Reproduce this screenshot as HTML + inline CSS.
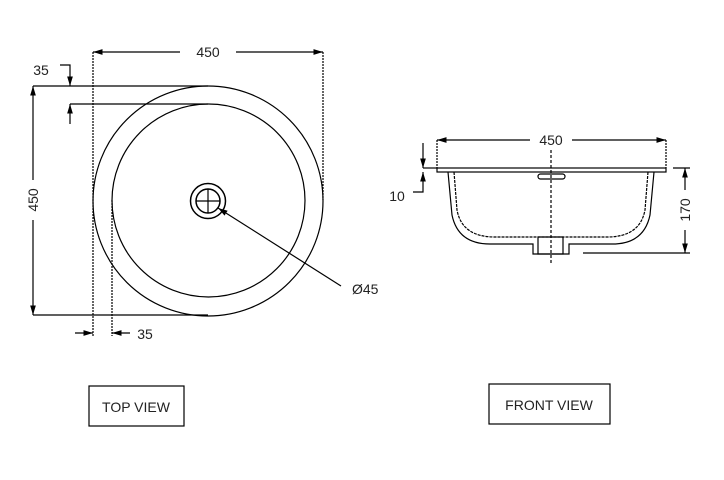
<!DOCTYPE html>
<html><head><style>body{margin:0;background:#fff}svg{display:block}text{font-family:"Liberation Sans",sans-serif;font-size:14px;fill:#222}</style></head><body>
<svg width="724" height="480" viewBox="0 0 724 480" xmlns="http://www.w3.org/2000/svg">
<defs><marker id="a" viewBox="0 0 10 10" refX="10" refY="5" markerWidth="8" markerHeight="8" orient="auto-start-reverse"><path d="M0,2 L10,5 L0,8z" fill="#000"/></marker></defs>
<g stroke="#000" stroke-width="1.2" fill="none">
<circle cx="208" cy="201" r="115"/>
<circle cx="208.5" cy="200.5" r="96.5"/>
<circle cx="208" cy="201" r="17.5" stroke-width="1.5"/>
<circle cx="208" cy="201" r="12" stroke-width="1.5"/>
<line x1="196" y1="201" x2="220" y2="201"/><line x1="208" y1="189" x2="208" y2="213"/>
<line x1="93" y1="52" x2="93" y2="336" stroke-dasharray="2,1"/>
<line x1="323" y1="52" x2="323" y2="200" stroke-dasharray="2,1"/>
<line x1="112" y1="200" x2="112" y2="336" stroke-dasharray="2,1"/>
<line x1="93" y1="52" x2="180" y2="52" marker-start="url(#a)"/>
<line x1="236" y1="52" x2="323" y2="52" marker-end="url(#a)"/>
<line x1="33" y1="86" x2="208" y2="86"/>
<line x1="33" y1="315" x2="208" y2="315"/>
<line x1="33" y1="86" x2="33" y2="180" marker-start="url(#a)"/>
<line x1="33" y1="220" x2="33" y2="315" marker-end="url(#a)"/>
<polyline points="60,65 70,65 70,86" marker-end="url(#a)"/>
<line x1="70" y1="104" x2="208" y2="104"/>
<line x1="70" y1="124" x2="70" y2="104" marker-end="url(#a)"/>
<line x1="75" y1="333" x2="93" y2="333" marker-end="url(#a)"/>
<line x1="130" y1="333" x2="112" y2="333" marker-end="url(#a)"/>
<line x1="341" y1="286" x2="218" y2="208" marker-end="url(#a)"/>
<line x1="437" y1="140" x2="437" y2="168" stroke-dasharray="2,1"/>
<line x1="666" y1="140" x2="666" y2="168" stroke-dasharray="2,1"/>
<line x1="437" y1="140" x2="530" y2="140" marker-start="url(#a)"/>
<line x1="572" y1="140" x2="666" y2="140" marker-end="url(#a)"/>
<rect x="437" y="168" width="229" height="4"/>
<path d="M448,172 L452,215 Q458,244 490,244 L533,244 L533,254 L569,254 L569,244 L612,244 Q644,244 650,215 L654,172"/>
<path d="M454,172 L457,210 Q462,237 495,237 L607,237 Q640,237 645,210 L648,172" stroke-dasharray="3,1"/>
<rect x="538" y="237" width="25" height="17"/>
<rect x="538" y="174" width="27" height="5" rx="2.5"/>
<line x1="551" y1="150" x2="551" y2="264" stroke-dasharray="3,2"/>
<line x1="423" y1="168" x2="437" y2="168"/>
<line x1="423" y1="143" x2="423" y2="168" marker-end="url(#a)"/>
<polyline points="413,192 423,192 423,172" marker-end="url(#a)"/>
<line x1="673" y1="168" x2="690" y2="168"/>
<line x1="583" y1="253" x2="690" y2="253"/>
<line x1="685" y1="168" x2="685" y2="190" marker-start="url(#a)"/>
<line x1="685" y1="230" x2="685" y2="253" marker-end="url(#a)"/>
<rect x="89" y="386" width="95" height="40"/>
<rect x="489" y="384" width="121" height="40"/>
</g>
<text x="208" y="57" text-anchor="middle">450</text>
<text x="41" y="75" text-anchor="middle">35</text>
<text x="145" y="339" text-anchor="middle">35</text>
<text transform="translate(38,200) rotate(-90)" text-anchor="middle">450</text>
<text x="352" y="294">Ø45</text>
<text x="551" y="145" text-anchor="middle">450</text>
<text x="397" y="201" text-anchor="middle">10</text>
<text transform="translate(690,210) rotate(-90)" text-anchor="middle">170</text>
<text x="136" y="412" text-anchor="middle">TOP VIEW</text>
<text x="549" y="410" text-anchor="middle">FRONT VIEW</text>
</svg>
</body></html>
